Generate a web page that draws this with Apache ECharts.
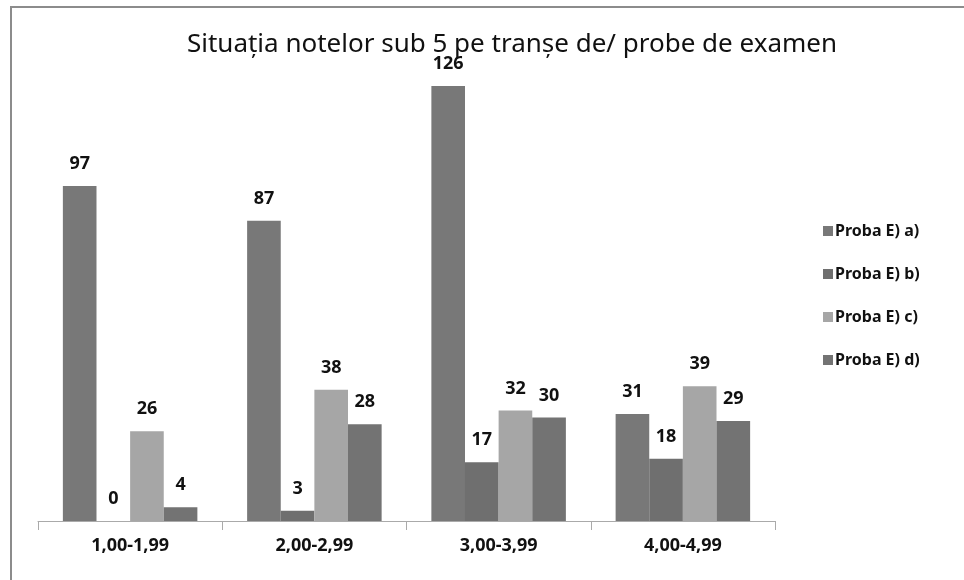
<!DOCTYPE html>
<html>
<head>
<meta charset="utf-8">
<script src="https://cdn.jsdelivr.net/npm/echarts@6/dist/echarts.min.js"></script>
<style>
html, body { margin: 0; padding: 0; background: #fff; }
#frame {
  position: absolute; left: 10px; top: 6px; width: 960px; height: 580px;
  border-top: 2px solid #8c8c8c; border-left: 2px solid #8c8c8c;
}
#chart { position: absolute; left: 0; top: 0; width: 964px; height: 580px; }
</style>
</head>
<body>
<div id="frame"></div>
<div id="chart"></div>
<script>
const categories = ['1,00-1,99', '2,00-2,99', '3,00-3,99', '4,00-4,99']
const seriesNames = ['Proba E) a)', 'Proba E) b)', 'Proba E) c)', 'Proba E) d)']
const probaA = [97, 87, 126, 31]
const probaB = [0, 3, 17, 18]
const probaC = [26, 38, 32, 39]
const probaD = [4, 28, 30, 29]
const colors = ['#787878', '#6f6f6f', '#a6a6a6', '#737373']

const fontFam = '"Noto Sans", "DejaVu Sans", sans-serif'
let chart = echarts.init(document.getElementById('chart'))

let values = [probaA, probaB, probaC, probaD]
let series = []
for (let i = 0; i < values.length; i++) {
  series.push({
    name: seriesNames[i],
    type: 'bar',
    data: values[i],
    barGap: '0%',
    barCategoryGap: '27%',
    itemStyle: { color: colors[i] },
    label: {
      show: true,
      position: 'top',
      distance: 13,
      color: '#111',
      fontSize: 18,
      fontWeight: 'bold',
      fontFamily: fontFam
    }
  })
}

chart.setOption({
  animation: false,
  color: colors,
  title: {
    text: 'Situația notelor sub 5 pe tranșe de/ probe de examen',
    left: 507,
    textAlign: 'center',
    top: 27,
    textStyle: { fontSize: 26, fontWeight: 'normal', color: '#111', fontFamily: fontFam }
  },
  legend: {
    orient: 'vertical',
    left: 818,
    top: 218,
    itemWidth: 10,
    itemHeight: 10,
    itemGap: 27,
    icon: 'rect',
    textStyle: { fontSize: 16, fontWeight: 'bold', color: '#111', fontFamily: fontFam, padding: [0, 0, 0, -3] }
  },
  grid: { left: 38, right: 189, top: 86, bottom: 59 },
  xAxis: {
    type: 'category',
    data: categories,
    axisLine: { lineStyle: { color: '#aaaaaa', width: 1 } },
    axisTick: { show: true, length: 9, lineStyle: { color: '#aaaaaa' } },
    axisLabel: { margin: 16, fontSize: 18, fontWeight: 'bold', color: '#111', fontFamily: fontFam }
  },
  yAxis: {
    type: 'value',
    min: 0,
    max: 126,
    show: false,
    splitLine: { show: false }
  },
  series: series
})
</script>
</body>
</html>
